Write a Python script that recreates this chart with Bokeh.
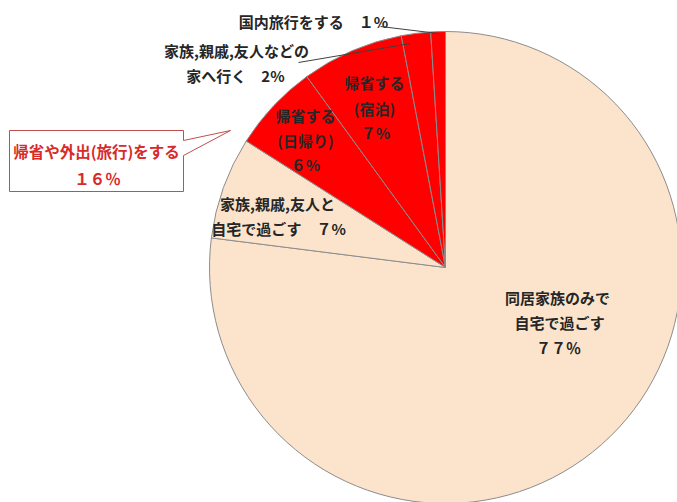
import math
from bokeh.plotting import figure
from bokeh.models import Range1d, ColumnDataSource
from bokeh.core.properties import value
from bokeh.embed import file_html
from bokeh.resources import INLINE

# ---- data ----
categories = ["同居家族のみで自宅で過ごす", "家族,親戚,友人と自宅で過ごす", "帰省する(日帰り)",
              "帰省する(宿泊)", "家族,親戚,友人などの家へ行く", "国内旅行をする"]
shares = [77, 7, 6, 7, 2, 1]
slice_colors = ["#FCE4CC", "#FCE4CC", "#FF0000", "#FF0000", "#FF0000", "#FF0000"]
callout_lines = ["帰省や外出(旅行)をする", "１６％"]

# ---- layout (screen pixel coordinates; data y = 502 - screen y) ----
W, H = 677, 502
def Y(sy):
    return H - sy

CX, CY, R = 445, Y(267), 236

total = float(sum(shares))
starts, ends = [], []
acc = 0.0
for s in shares:
    starts.append(math.pi / 2 - 2 * math.pi * acc / total)
    acc += s
    ends.append(math.pi / 2 - 2 * math.pi * acc / total)

src = ColumnDataSource(dict(cat=categories, val=shares, start=starts, end=ends, color=slice_colors))

p = figure(width=W, height=H, x_range=Range1d(0, W), y_range=Range1d(0, H),
           output_backend="svg", toolbar_location=None, min_border=0)
p.axis.visible = False
p.grid.visible = False
p.outline_line_color = None
p.background_fill_color = "white"

p.wedge(x=CX, y=CY, radius=R, start_angle="start", end_angle="end", direction="clock",
        fill_color="color", line_color="#8C8C8C", line_width=1, source=src)

FONT = value("Noto Sans CJK JP")
DARK = "#262626"

def label(x, sy, txt, color=DARK, size="15px"):
    p.text(x=[x], y=[Y(sy)], text=[txt], text_font=FONT, text_font_size=size,
           text_font_style="bold", text_color=color, text_align="center",
           text_baseline="middle")

# big slice
label(557, 297, "同居家族のみで")
label(559, 322, "自宅で過ごす")
label(558, 347, "７７％")
# family at home
label(277, 203, "家族,親戚,友人と")
label(278, 228, "自宅で過ごす　７%")
# day trip home
label(305, 115, "帰省する")
label(305, 140, "(日帰り)")
label(305, 164, "６%")
# overnight
label(374, 82, "帰省する")
label(374, 108, "(宿泊)")
label(375, 132, "７%")
# visiting
label(236, 50, "家族,親戚,友人などの")
label(235, 75, "家へ行く　2%")
# domestic trip
label(313, 21, "国内旅行をする　１%")

# leader lines
p.line(x=[380, 438], y=[Y(26), Y(33)], line_color="#404040", line_width=1)
p.line(x=[298, 410], y=[Y(62), Y(43)], line_color="#404040", line_width=1)

# callout
bx = [9, 183, 183, 230, 183, 183, 9]
by = [Y(130), Y(130), Y(140), Y(130), Y(155), Y(191), Y(191)]
p.patch(x=bx, y=by, fill_color="white", line_color="#C0504D", line_width=1)
label(96, 150, callout_lines[0], color="#D92A2A", size="15.5px")
label(97, 177, callout_lines[1], color="#D92A2A", size="15.5px")

open("out.html", "w").write(file_html(p, INLINE))
